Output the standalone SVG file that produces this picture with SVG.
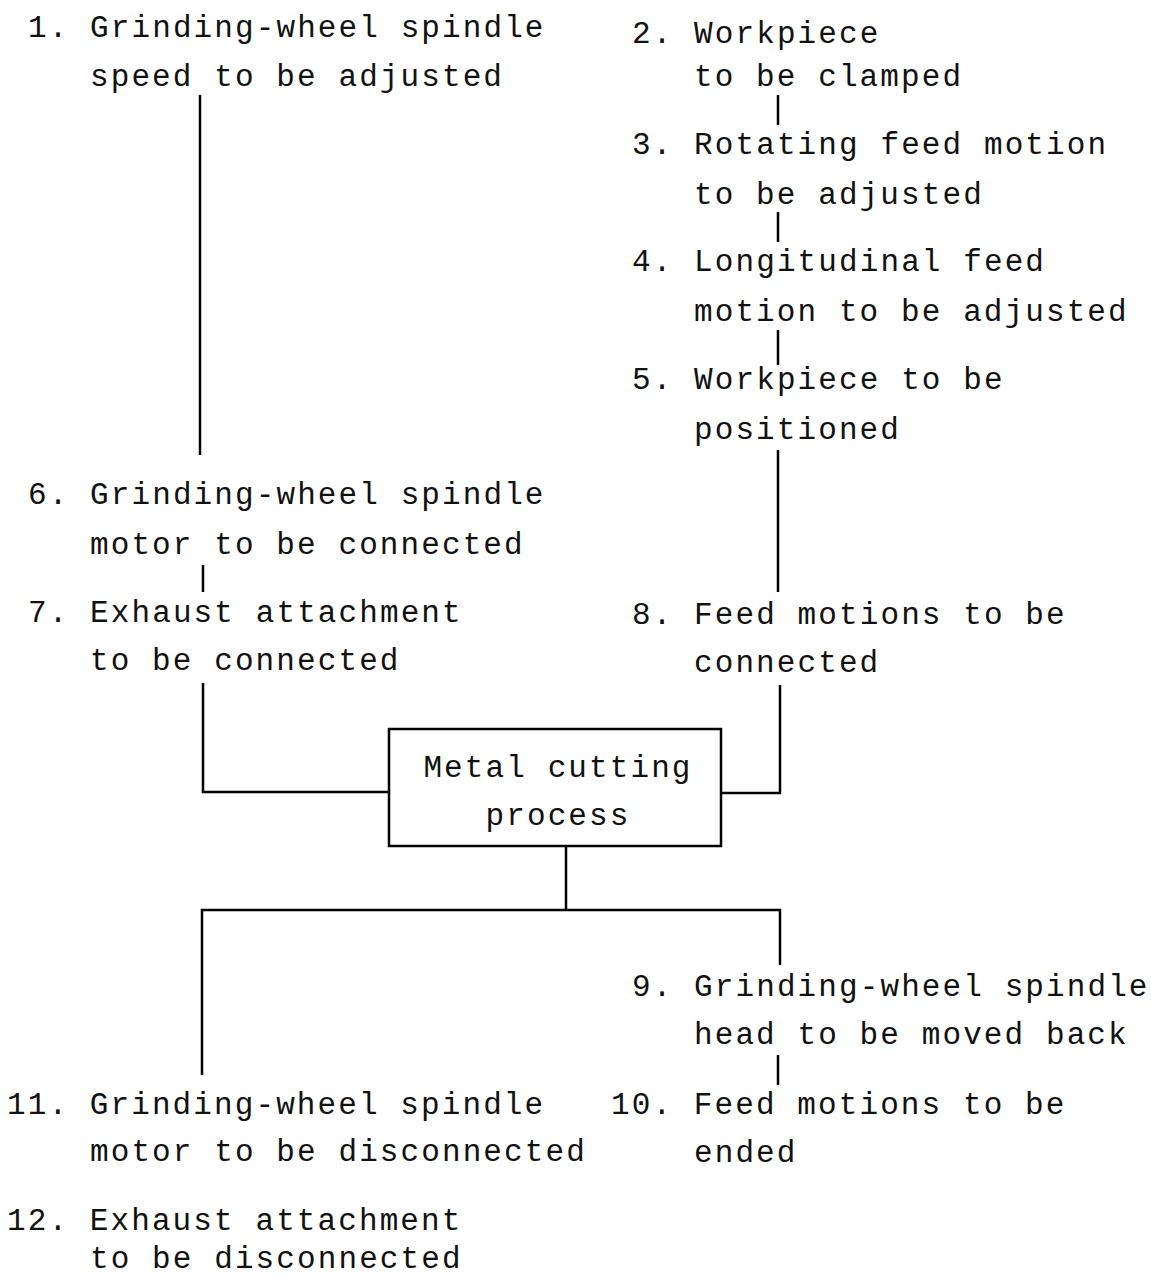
<svg xmlns="http://www.w3.org/2000/svg" width="1151" height="1278" viewBox="0 0 1151 1278">
<style>
text{font-family:"Liberation Mono","DejaVu Sans Mono",monospace;font-size:31px;letter-spacing:2.1px;fill:#111}
.c{fill:none;stroke:#000;stroke-width:2.5}
</style>
<rect width="1151" height="1278" fill="#fff"/>
<g id="connectors" class="c">
<path d="M200 95V455"/>
<path d="M778 95V125"/>
<path d="M778 212V242"/>
<path d="M778 330V365"/>
<path d="M778 450V592"/>
<path d="M203 565V592"/>
<path d="M203 683V792H389"/>
<path d="M780 685V793H721"/>
<path d="M566 846V910"/>
<path d="M202 1075V910H780V965"/>
<path d="M778 1055V1085"/>
</g>
<g id="n1"><text x="28" y="37">1. Grinding-wheel spindle</text><text x="90" y="86">speed to be adjusted</text></g>
<g id="n2"><text x="632" y="43">2. Workpiece</text><text x="694" y="86">to be clamped</text></g>
<g id="n3"><text x="632" y="154">3. Rotating feed motion</text><text x="694" y="204">to be adjusted</text></g>
<g id="n4"><text x="632" y="271">4. Longitudinal feed</text><text x="694" y="321">motion to be adjusted</text></g>
<g id="n5"><text x="632" y="389">5. Workpiece to be</text><text x="694" y="439">positioned</text></g>
<g id="n6"><text x="28" y="504">6. Grinding-wheel spindle</text><text x="90" y="554">motor to be connected</text></g>
<g id="n7"><text x="28" y="622">7. Exhaust attachment</text><text x="90" y="670">to be connected</text></g>
<g id="n8"><text x="632" y="624">8. Feed motions to be</text><text x="694" y="672">connected</text></g>
<g id="box"><rect x="389" y="729" width="332" height="117" fill="none" stroke="#000" stroke-width="2.5"/><text x="558" y="777" text-anchor="middle">Metal cutting</text><text x="558" y="825" text-anchor="middle">process</text></g>
<g id="n9"><text x="632" y="996">9. Grinding-wheel spindle</text><text x="694" y="1044">head to be moved back</text></g>
<g id="n10"><text x="611" y="1114">10. Feed motions to be</text><text x="694" y="1162">ended</text></g>
<g id="n11"><text x="7" y="1114">11. Grinding-wheel spindle</text><text x="90" y="1161">motor to be disconnected</text></g>
<g id="n12"><text x="7" y="1230">12. Exhaust attachment</text><text x="90" y="1268">to be disconnected</text></g>
</svg>
